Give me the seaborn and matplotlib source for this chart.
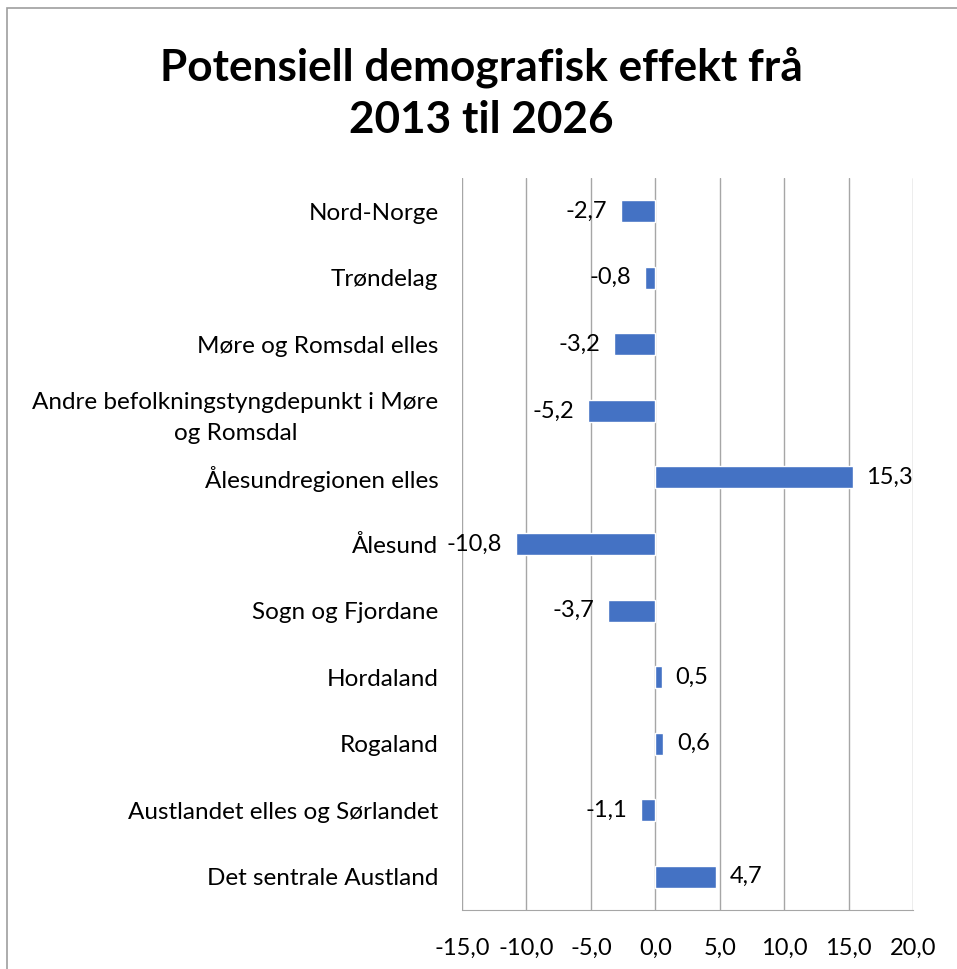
import pandas as pd
import matplotlib.pyplot as plt
import seaborn as sns
from matplotlib.patches import Rectangle

# Data
regioner = ['Nord-Norge', 'Trøndelag', 'Møre og Romsdal elles',
            'Andre befolkningstyngdepunkt i Møre\nog Romsdal',
            'Ålesundregionen elles', 'Ålesund', 'Sogn og Fjordane',
            'Hordaland', 'Rogaland', 'Austlandet elles og Sørlandet',
            'Det sentrale Austland']
effekt = [-2.7, -0.8, -3.2, -5.2, 15.3, -10.8, -3.7, 0.5, 0.6, -1.1, 4.7]
xticks = [-15, -10, -5, 0, 5, 10, 15, 20]

df = pd.DataFrame({'Region': regioner, 'Effekt': effekt})

sns.set_style('white')
plt.rcParams['font.family'] = ['Lato', 'DejaVu Sans']
plt.rcParams['text.color'] = 'black'
plt.rcParams['xtick.color'] = 'black'
plt.rcParams['ytick.color'] = 'black'

fig = plt.figure(figsize=(9.57, 9.69), dpi=100)
ax = fig.add_axes([0.4828, 0.0609, 0.4713, 0.7554])

sns.barplot(data=df, x='Effekt', y='Region', orient='h', color='#4472C4',
            saturation=1, width=0.33, ax=ax)

# etikettar med komma som desimalteikn
fmt = lambda v: f'{v:.1f}'.replace('.', ',')
ax.bar_label(ax.containers[0], labels=[fmt(v) for v in effekt],
             padding=10, fontsize=17)

ax.set_xlim(-15, 20)
ax.set_ylim(10.5, -0.5)
ax.set_xticks(xticks)
ax.set_xticklabels([fmt(v) for v in xticks], fontsize=17)
ax.tick_params(axis='x', length=0, pad=20)
ax.tick_params(axis='y', length=0, pad=17, labelsize=17.5)
ax.set_xlabel('')
ax.set_ylabel('')
for lbl in ax.get_yticklabels():
    lbl.set_multialignment('center')
    lbl.set_linespacing(1.6)

ax.grid(axis='x', color='#A6A6A6', linewidth=1)
ax.set_axisbelow(True)
for s in ['top', 'right', 'left']:
    ax.spines[s].set_visible(False)
ax.spines['bottom'].set_color('#A6A6A6')

fig.text(0.503, 0.904, 'Potensiell demografisk effekt frå\n2013 til 2026',
         ha='center', va='center', fontsize=31.8, fontweight='bold',
         linespacing=1.35, color='black')

# ramme rundt figuren
fig.patches.append(Rectangle((0.0073, -0.01), 1.0, 1 - 0.0083 + 0.01,
                             transform=fig.transFigure, fill=False,
                             edgecolor='#9E9E9E', linewidth=1.2))

fig.savefig('out.png', dpi=100)
